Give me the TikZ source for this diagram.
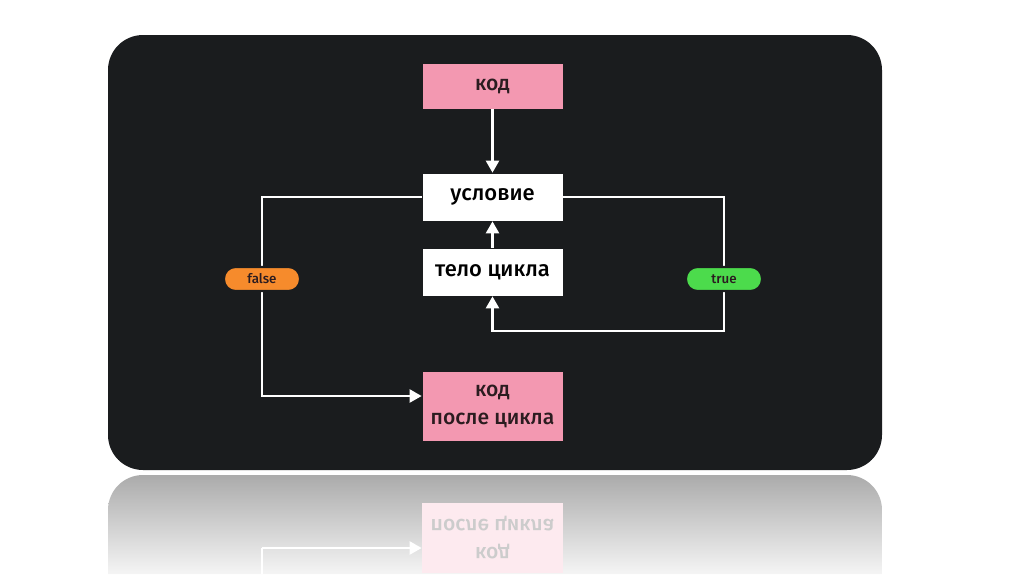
\documentclass[tikz,border=0pt]{standalone}
\usepackage{fontspec}
\setmainfont{Fira Sans}[UprightFont={* Medium},BoldFont={* SemiBold}]
\usetikzlibrary{arrows.meta,positioning}
\definecolor{panel}{HTML}{1A1C1E}
\definecolor{rpink}{HTML}{F398B1}
\definecolor{ink}{HTML}{2B1C20}
\definecolor{fls}{HTML}{F68B2C}
\definecolor{tru}{HTML}{4CDB4C}
\tikzset{
  pbox/.style={rectangle,draw=panel,fill=rpink,text=ink,minimum width=2.82cm,inner sep=0pt,line width=.4pt,font=\fontsize{12}{16}\selectfont,align=center},
  wbox/.style={rectangle,draw=panel,fill=white,text=black,minimum width=2.82cm,minimum height=.96cm,inner sep=0pt,line width=.4pt,font=\fontsize{12.5}{15}\selectfont},
  pill/.style={rounded corners=.23cm,draw=panel,text=ink,minimum width=1.52cm,minimum height=.48cm,inner sep=0pt,line width=1.2pt,font=\fontsize{7.6}{9}\selectfont},
  lnk/.style={draw=white,line width=1.3pt},
  arr/.style={lnk,-{Triangle[length=2.4mm,width=2.6mm]}},
  % the reflection below the panel is the lower half drawn upside down and washed out
  rlnk/.style={draw=white,line width=1.3pt},
  rbox/.style={rectangle,fill=rpink!20!white,text=black!20,minimum width=2.82cm,minimum height=1.4cm,inner sep=0pt,font=\fontsize{12}{16}\selectfont,align=center,transform shape},
}
\begin{document}
\begin{tikzpicture}
\useasboundingbox (0,0) rectangle (20.48,-11.48);
\fill[white] (0,0) rectangle (20.48,-11.48);
% reflection
\begin{scope}
  \clip (2.16,-11.48) -- (2.16,-10.2) arc[start angle=180,end angle=90,radius=.7] -- (16.94,-9.5) arc[start angle=90,end angle=0,radius=.7] -- (17.64,-11.48) -- cycle;
  \shade[top color=black!33,bottom color=black!4] (2.16,-9.5) rectangle (17.64,-11.48);
  \begin{scope}[shift={(0,-18.88)},yscale=-1]
    \node[rbox] (rafter) at (9.85,-8.12) {код\\после цикла};
    \coordinate (rcorner) at (5.24,-7.92);
    \draw[rlnk] (5.24,-6.4) -- (rcorner);
    \draw[rlnk,-{Triangle[length=2.4mm,width=2.6mm]}] (rcorner) -- (rafter.west |- rcorner);
  \end{scope}
\end{scope}
% panel
\fill[panel,rounded corners=.7cm] (2.16,-.7) rectangle (17.64,-9.4);
\node[pbox,minimum height=.92cm] (code) at (9.85,-1.72) {код};
\node[wbox] (cond) at (9.85,-3.94) {условие};
\node[wbox] (body) at (9.85,-5.44) {тело цикла};
\node[pbox,minimum height=1.4cm] (after) at (9.85,-8.12) {код\\после цикла};
\coordinate (fc) at (5.24,-5.58);
\coordinate (tc) at (14.48,-5.58);
\coordinate (tb) at (14.48,-6.62);
\draw[arr] (code) -- (cond);
\draw[arr] (body) -- (cond);
\draw[arr] (cond.west) -| (fc) |- ([yshift=2mm]after.west);
\draw[arr] (cond.east) -| (tb) -| (body.south);
\node[pill,fill=fls] (false) at (fc) {false};
\node[pill,fill=tru] (true) at (tc) {true};
\end{tikzpicture}
\end{document}
